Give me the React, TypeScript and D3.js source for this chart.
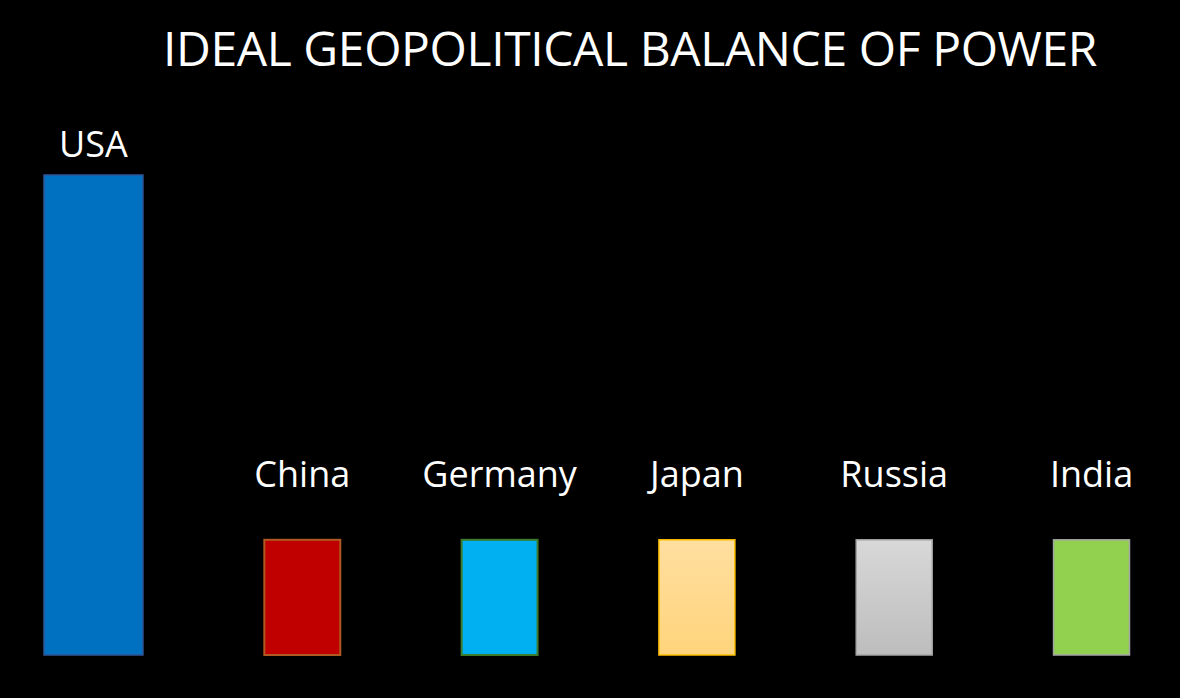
import * as d3 from "d3";

const categories = ["USA", "China", "Germany", "Japan", "Russia", "India"];
const values = [25, 6, 6, 6, 6, 6];
const title = "IDEAL GEOPOLITICAL BALANCE OF POWER";

const fills = ["#0070c0", "#c00000", "#00b0f0", "url(#gradJapan)", "url(#gradRussia)", "#92d050"];
const strokes = ["#2f5597", "#ae5a21", "#3d7a2a", "#ffc000", "#a5a5a5", "#a5a5a5"];

const W = 1180;
const H = 698;
const FONT = "'Open Sans', sans-serif";

export default function App() {
  const x = d3
    .scaleBand<string>()
    .domain(categories)
    .range([67, 1129.5])
    .paddingInner(0.615)
    .paddingOuter(0);

  const maxV = d3.max(values) || 0;
  const y = d3.scaleLinear().domain([0, maxV]).range([655, 175]);

  // first bar is drawn wider, growing to the left
  const extra = 23;

  return (
    <div style={{ position: "fixed", left: 0, top: 0, width: W, height: H, background: "#000" }}>
      <svg width={W} height={H} style={{ display: "block" }}>
        <defs>
          <linearGradient id="gradJapan" x1="0" y1="0" x2="0" y2="1">
            <stop offset="0%" stopColor="#ffdfa0" />
            <stop offset="100%" stopColor="#ffd47b" />
          </linearGradient>
          <linearGradient id="gradRussia" x1="0" y1="0" x2="0" y2="1">
            <stop offset="0%" stopColor="#d8d8d8" />
            <stop offset="100%" stopColor="#bdbdbd" />
          </linearGradient>
        </defs>
        <rect width={W} height={H} fill="#000" />

        <text
          x={630}
          y={66}
          textAnchor="middle"
          fill="#fff"
          fontFamily={FONT}
          fontSize={48}
          letterSpacing={-0.4}
        >
          {title}
        </text>

        {categories.map((c, i) => {
          const bx = (x(c) || 0) - (i === 0 ? extra : 0);
          const bw = x.bandwidth() + (i === 0 ? extra : 0);
          const top = y(values[i]);
          const labelY = Math.max(top - 53, y(maxV) - 18);
          return (
            <g key={c}>
              <rect
                x={bx}
                y={top}
                width={bw}
                height={y(0) - top}
                fill={fills[i]}
                stroke={strokes[i]}
                strokeWidth={i === 1 || i === 2 ? 2 : 1.5}
              />
              <text
                x={bx + bw / 2}
                y={labelY}
                textAnchor="middle"
                fill="#fff"
                fontFamily={FONT}
                fontSize={36}
              >
                {c}
              </text>
            </g>
          );
        })}
      </svg>
    </div>
  );
}
